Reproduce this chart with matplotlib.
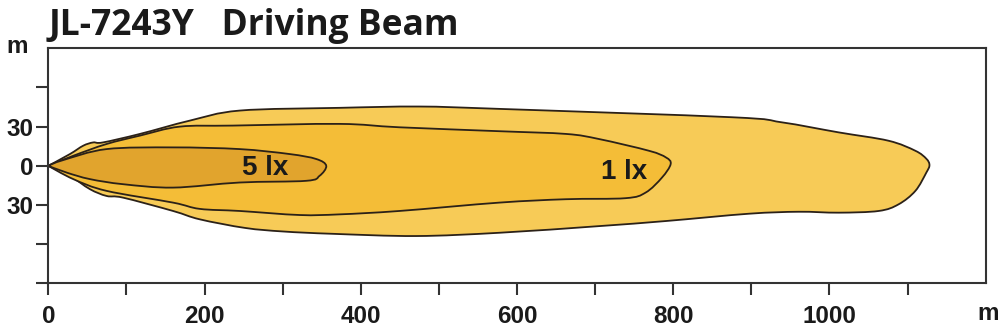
import matplotlib
matplotlib.use("Agg")
import numpy as np
import matplotlib.pyplot as plt
from matplotlib.path import Path
from matplotlib.patches import PathPatch

# =============================================================================
# Data (metres)
# =============================================================================

# outer envelope (lightest zone), clockwise from lamp at origin
OUTER_X = [0, 27.7, 44.7, 57.5, 69.9, 117.2, 181.1, 245, 372.8, 475, 577.3,
           875, 939, 1011.8, 1075.6, 1110, 1124, 1128, 1124, 1110, 1088.5,
           1063, 1011.8, 960.6, 897, 790.7, 705, 577.3, 470.8, 364.2, 300.3,
           252, 193.9, 159.7, 95.8, 74.6, 53.3, 27.7]
OUTER_Y = [0, 9.0, 15.4, 17.9, 17.9, 24.4, 34.6, 42.3, 44.4, 45.4, 43.6,
           37.2, 33.3, 25.6, 19.2, 11.5, 5.4, 0.5, -5.2, -19.2, -29.5,
           -34.6, -35.9, -35.2, -36.7, -42.3, -46.2, -51.3, -53.8, -52.1, -50.3,
           -47.6, -41, -34.6, -24.4, -23.1, -17.9, -7.7]

# 1 lx isoline
LX1_X = [0, 32, 74.6, 117.2, 168.3, 236, 372.8, 449.4, 577.3, 663, 705, 769,
         790.7, 796.7, 785.6, 764.7, 739, 662.5, 577.3, 449.4, 372.8, 321.7,
         245, 193.9, 159.7, 74.6, 32]
LX1_Y = [0, 7.7, 16.7, 23.1, 30, 30.8, 32.1, 29.5, 26.5, 24.4, 20.5, 11.5,
         6.4, 1.3, -9.0, -20.5, -24.8, -25.6, -28.2, -34.6, -37.2, -37.7,
         -34.6, -33, -28.2, -19.2, -10.2]

# 5 lx isoline
LX5_X = [0, 19.2, 74.6, 159.7, 245, 308.9, 343, 355.8, 347.2, 330.2, 245,
         159.7, 95.8, 53.3, 23.5]
LX5_Y = [0, 4.4, 12.8, 14.1, 12.8, 9.0, 5.2, 0, -7.7, -11.5, -12.8,
         -16.7, -14.1, -10.2, -5.2]

ZONES = [
    (OUTER_X, OUTER_Y, "#F7CB57"),
    (LX1_X, LX1_Y, "#F4BD37"),
    (LX5_X, LX5_Y, "#E1A42D"),
]

ZONE_LABELS = ["5 lx", "1 lx"]
ZONE_LABEL_X = [277, 737]
ZONE_LABEL_Y = [-2, -4.6]

X_TICKS = list(range(0, 1200, 100))
X_LABELS = ["0", "", "200", "", "400", "", "600", "", "800", "", "1000", ""]
Y_TICKS = [-90, -60, -30, 0, 30, 60]
Y_LABELS = ["", "", "30", "0", "30", ""]

TITLE = "JL-7243Y   Driving Beam"
TICK_FONT = "Liberation Sans"
INK = "#1a1a1a"


def smooth_outline(xs, ys):
    """closed bezier outline through the points, sharp corner at the lamp (index 0)."""
    pts = np.column_stack([xs, ys]).astype(float)
    n = len(pts)
    tang = (np.roll(pts, -1, axis=0) - np.roll(pts, 1, axis=0)) / 2.0
    tang[0] = 0.0  # cusp at the lamp
    verts = [pts[0]]
    codes = [Path.MOVETO]
    for i in range(n):
        j = (i + 1) % n
        verts += [pts[i] + tang[i] / 3.0, pts[j] - tang[j] / 3.0, pts[j]]
        codes += [Path.CURVE4] * 3
    return Path(verts, codes)


# =============================================================================
# Plot
# =============================================================================

fig = plt.figure(figsize=(10, 3.32), dpi=100)
ax = fig.add_axes([0.0483, 0.1467, 0.9374, 0.7078])

for xs, ys, col in ZONES:
    ax.add_patch(PathPatch(smooth_outline(xs, ys), facecolor=col,
                           edgecolor="#2b2118", linewidth=1.3))

for lbl, lx, ly in zip(ZONE_LABELS, ZONE_LABEL_X, ZONE_LABEL_Y):
    ax.text(lx, ly, lbl, ha="center", va="center", fontsize=20,
            fontweight="bold", family=TICK_FONT, color=INK)

ax.set_xlim(0, 1200)
ax.set_ylim(-90, 90)

for sp in ax.spines.values():
    sp.set_linewidth(1.5)
    sp.set_color("#333333")

ax.set_xticks(X_TICKS)
ax.set_xticklabels(X_LABELS)
ax.set_yticks(Y_TICKS)
ax.set_yticklabels(Y_LABELS)
ax.tick_params(axis="x", direction="out", length=8.5, width=1.5,
               color="#333333", pad=7)
ax.tick_params(axis="y", direction="out", length=8.5, width=1.5,
               color="#333333", pad=2)
for lab in ax.get_xticklabels() + ax.get_yticklabels():
    lab.set_fontfamily(TICK_FONT)
    lab.set_fontweight("bold")
    lab.set_fontsize(17.5)
    lab.set_color(INK)

# unit labels
fig.text(0.017, 1 - 53 / 332, "m", ha="center", va="baseline", fontsize=17.5,
         fontweight="bold", family=TICK_FONT, color=INK)
fig.text(0.988, 1 - 320 / 332, "m", ha="center", va="baseline", fontsize=17.5,
         fontweight="bold", family=TICK_FONT, color=INK)

fig.text(0.049, 1 - 35 / 332, TITLE, ha="left", va="baseline", fontsize=25.5,
         fontweight="bold", family="Open Sans", color=INK)

fig.savefig("out.png", dpi=100, facecolor="white")
